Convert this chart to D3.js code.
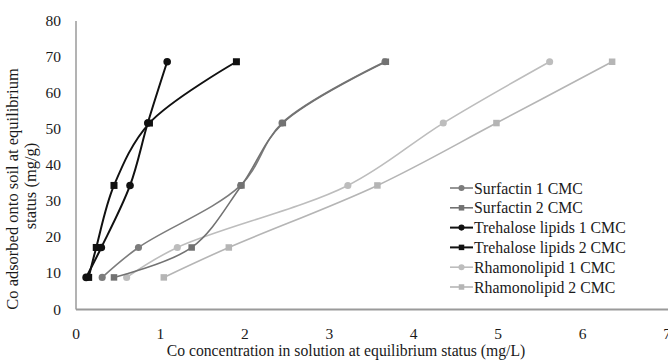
<!DOCTYPE html>
<html>
<head>
<script src="https://d3js.org/d3.v7.min.js"></script>
<style>
  body { margin: 0; background: #fff; }
  text { font-family: "Liberation Serif", "Times New Roman", serif; fill: #1a1a1a; }
</style>
</head>
<body>
<div id="chart"></div>
<script>
// series names
const names = ["Surfactin 1 CMC", "Surfactin 2 CMC", "Trehalose lipids 1 CMC",
               "Trehalose lipids 2 CMC", "Rhamonolipid 1 CMC", "Rhamonolipid 2 CMC"];
// adsorbed (mg/g), same for all series
const adsorbed = [8.9, 17.2, 34.4, 51.7, 68.7];
// concentration in solution (mg/L) per series
const surfactin1 = [0.31, 0.74, 1.95, 2.44, 3.66];
const surfactin2 = [0.45, 1.37, 1.96, 2.45, 3.67];
const trehalose1 = [0.12, 0.30, 0.64, 0.85, 1.08];
const trehalose2 = [0.15, 0.24, 0.45, 0.87, 1.90];
const rhamno1 = [0.60, 1.20, 3.22, 4.35, 5.61];
const rhamno2 = [1.04, 1.81, 3.57, 4.98, 6.35];
const xTicks = [0, 1, 2, 3, 4, 5, 6, 7];
const yTicks = [0, 10, 20, 30, 40, 50, 60, 70, 80];

const colors = ["#7c7c7c", "#727272", "#111111", "#111111", "#bdbdbd", "#b5b5b5"];
const shapes = ["circle", "square", "circle", "square", "circle", "square"];
const xs = [surfactin1, surfactin2, trehalose1, trehalose2, rhamno1, rhamno2];

const W = 668, H = 362;
const svg = d3.select("#chart").append("svg").attr("width", W).attr("height", H);

const x = d3.scaleLinear().domain([0, 7]).range([76, 667]);
const y = d3.scaleLinear().domain([0, 80]).range([309.5, 21]);

// axes
svg.append("line").attr("x1", x(0)).attr("x2", W).attr("y1", y(0)).attr("y2", y(0))
  .attr("stroke", "#9a9a9a").attr("stroke-width", 2);
svg.append("line").attr("x1", x(0)).attr("x2", x(0)).attr("y1", y(0)).attr("y2", y(80))
  .attr("stroke", "#9a9a9a").attr("stroke-width", 1.5);

svg.selectAll(".xt").data(xTicks).enter().append("text")
  .attr("x", d => x(d)).attr("y", 339)
  .attr("text-anchor", "middle").attr("font-size", 15.5).text(d => d);
svg.selectAll(".yt").data(yTicks).enter().append("text")
  .attr("x", 61).attr("y", d => y(d) + 5)
  .attr("text-anchor", "end").attr("font-size", 15.5).text(d => d);

svg.append("text").attr("x", 346).attr("y", 356).attr("text-anchor", "middle")
  .attr("font-size", 15.7).text("Co concentration in solution at equilibrium status (mg/L)");
svg.append("text").attr("transform", "translate(18,189) rotate(-90)").attr("text-anchor", "middle")
  .attr("font-size", 16.5).text("Co adsorbed onto soil at equilibrium");
svg.append("text").attr("transform", "translate(36,186) rotate(-90)").attr("text-anchor", "middle")
  .attr("font-size", 16.5).text("status (mg/g)");

const line = d3.line().x(d => x(d[0])).y(d => y(d[1])).curve(d3.curveCatmullRom.alpha(0.5));

function marker(g, shape, cx, cy, c, s) {
  if (shape === "circle") {
    g.append("circle").attr("cx", cx).attr("cy", cy).attr("r", s / 2 + 0.3).attr("fill", c);
  } else {
    g.append("rect").attr("x", cx - s / 2).attr("y", cy - s / 2).attr("width", s).attr("height", s).attr("fill", c);
  }
}

// draw lighter series first so black sits on top
const order = [4, 5, 0, 1, 2, 3];
order.forEach(i => {
  const pts = xs[i].map((v, j) => [v, adsorbed[j]]);
  const g = svg.append("g");
  g.append("path").attr("d", line(pts)).attr("fill", "none")
    .attr("stroke", colors[i]).attr("stroke-width", i === 2 || i === 3 ? 2 : 1.6);
  const s = i === 2 || i === 3 ? 7 : 6.5;
  pts.forEach(p => marker(g, shapes[i], x(p[0]), y(p[1]), colors[i], s));
});

// legend
const leg = svg.append("g");
names.forEach((n, i) => {
  const ly = 188 + i * 19.8;
  leg.append("line").attr("x1", 450).attr("x2", 473).attr("y1", ly).attr("y2", ly)
    .attr("stroke", colors[i]).attr("stroke-width", i === 2 || i === 3 ? 2 : 1.6);
  marker(leg, shapes[i], 461.5, ly, colors[i], 5.5);
  leg.append("text").attr("x", 474).attr("y", ly + 5.5).attr("font-size", 15.8).text(n);
});
</script>
</body>
</html>
